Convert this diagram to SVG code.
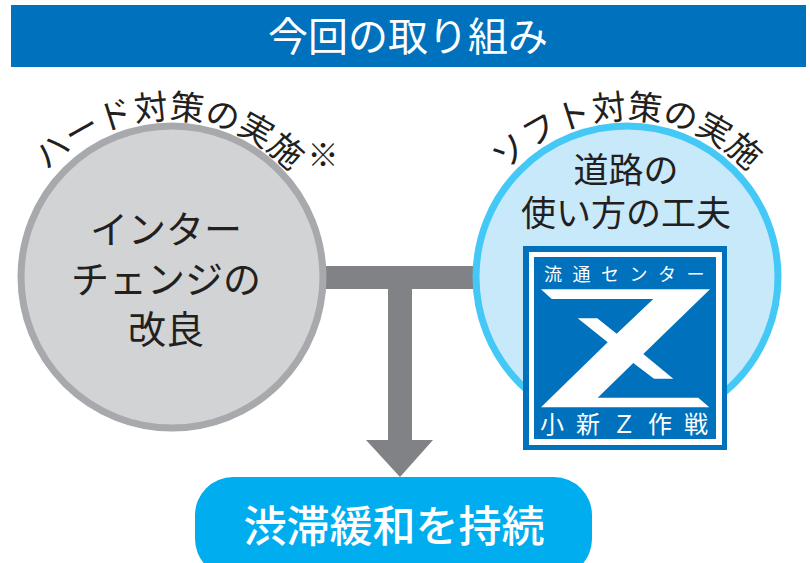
<svg xmlns="http://www.w3.org/2000/svg" width="810" height="563" viewBox="0 0 810 563">
<style>
text{font-family:"Noto Sans CJK JP","Liberation Sans",sans-serif;fill:#231f20;text-anchor:middle}
.t{font-size:38px}
.s{font-size:35px}
.a{font-size:34px}
.w{fill:#fff}
.lg{fill:#fff;text-anchor:start}
</style>
<defs>
<path id="arcL" d="M 3 285 A 166 166 0 0 1 335 285"/>
<path id="arcR" d="M 461 285 A 166 166 0 0 1 793 285"/>
</defs>
<rect width="810" height="563" fill="#fff"/>
<g id="header"><rect x="11" y="5" width="795" height="62" fill="#0071bc"/><text x="408" y="51" class="w" style="font-size:40px">今回の取り組み</text></g>
<g id="connectors">
<rect x="322" y="266" width="156" height="23" fill="#808285"/>
<path d="M388 289H412V440H433L400 477L366 440H388Z" fill="#808285"/>
</g>
<g id="hard">
<circle cx="172" cy="277" r="151" fill="#d1d3d4" stroke="#a7a9ac" stroke-width="7"/>
<text class="a"><textPath href="#arcL" startOffset="50%">ハード対策の実施</textPath></text>
<text x="323" y="166" style="font-size:31px">※</text>
<text class="t" x="166" y="243">インター</text>
<text class="t" x="166" y="293">チェンジの</text>
<text class="t" x="166" y="343">改良</text>
</g>
<g id="soft">
<circle cx="627" cy="277" r="151" fill="#c7e9fa" stroke="#44c8f5" stroke-width="7"/>
<text class="a"><textPath href="#arcR" startOffset="50%">ソフト対策の実施</textPath></text>
<text class="s" x="626" y="183">道路の</text>
<text class="s" x="626" y="226">使い方の工夫</text>
</g>
<g id="logo">
<rect x="523" y="246" width="204" height="204" fill="#0071bc"/>
<rect x="529" y="252" width="193" height="193" fill="#fff"/>
<rect x="534" y="257" width="182" height="182" fill="#0071bc"/>
<path fill="#fff" d="M541 289.300H710L643.300 354L673.300 378.700H654L633.300 363L597.700 397.700H698.300L709.300 407.300H541L607.700 342.300L577.700 318.300H597.300L616.700 333.700L653.300 299H551.700Z"/>
<text class="lg" x="544" y="281" style="font-size:18px" letter-spacing="10.500">流通センター</text>
<text class="lg" x="540" y="433" style="font-size:24px" letter-spacing="12">小新&#xFF3A;作戦</text>
</g>
<g id="result">
<rect x="195" y="477" width="397" height="100" rx="38" fill="#00aeef"/>
<text class="w" x="394" y="542" style="font-size:43px;font-weight:500">渋滞緩和を持続</text>
</g>
</svg>
